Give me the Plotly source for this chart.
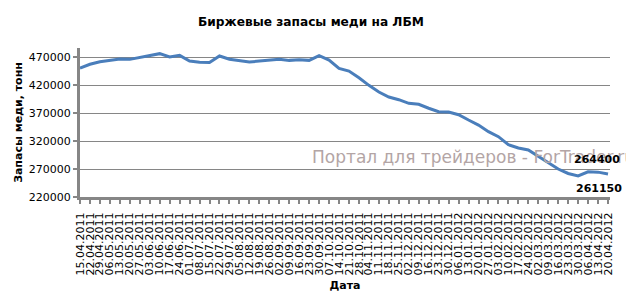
import plotly.graph_objects as go

dates = ["15.04.2011","22.04.2011","29.04.2011","06.05.2011","13.05.2011","20.05.2011","27.05.2011",
         "03.06.2011","10.06.2011","17.06.2011","24.06.2011","01.07.2011","08.07.2011","15.07.2011",
         "22.07.2011","29.07.2011","05.08.2011","12.08.2011","19.08.2011","26.08.2011","02.09.2011",
         "09.09.2011","16.09.2011","23.09.2011","30.09.2011","07.10.2011","14.10.2011","21.10.2011",
         "28.10.2011","04.11.2011","11.11.2011","18.11.2011","25.11.2011","02.12.2011","09.12.2011",
         "16.12.2011","23.12.2011","30.12.2011","06.01.2012","13.01.2012","20.01.2012","27.01.2012",
         "03.02.2012","10.02.2012","17.02.2012","24.02.2012","02.03.2012","09.03.2012","16.03.2012",
         "23.03.2012","30.03.2012","06.04.2012","13.04.2012","20.04.2012"]

stocks = [450000, 457000, 461600, 464600, 466400, 465800, 468800,
          472300, 476000, 470000, 473000, 462800, 460500, 460000,
          471800, 466000, 464000, 461000, 462800, 464000, 465800,
          464000, 465200, 464000, 472300, 464600, 449800, 445000,
          433000, 419400, 407500, 398600, 393800, 387300, 385600,
          378500, 372300, 371700, 367000, 357500, 348500, 336600,
          327700, 313400, 307500, 304000, 293000, 281700, 270000,
          262000, 257500, 265000, 264400, 261150]

y_ticks = [220000, 270000, 320000, 370000, 420000, 470000]

x_idx = list(range(len(dates)))

fig = go.Figure()
fig.add_trace(go.Scatter(x=x_idx, y=stocks, mode="lines",
                         line=dict(color="#4A7EBB", width=3), hoverinfo="skip"))

fig.update_layout(
    width=626, height=292,
    margin=dict(l=80, r=16, t=48, b=95),
    paper_bgcolor="white", plot_bgcolor="white",
    showlegend=False,
    font=dict(family="DejaVu Sans", color="black"),
)

fig.update_xaxes(
    range=[0, 53.2], tickmode="array", tickvals=x_idx, ticktext=dates, tickangle=-90,
    tickfont=dict(size=11, family="DejaVu Sans"), automargin=False,
    showgrid=False, showline=True, linecolor="#868686", linewidth=3,
    ticks="outside", ticklen=4, tickwidth=2, tickcolor="#868686", ticklabelstandoff=4,
    title=dict(text="<b>Дата</b>", font=dict(size=11), standoff=11), zeroline=False,
)
fig.update_yaxes(
    range=[220000, 486100], tickmode="array", tickvals=y_ticks, ticktext=[str(v) for v in y_ticks],
    tickfont=dict(size=11, family="DejaVu Sans"), automargin=False,
    showgrid=True, gridcolor="#868686", gridwidth=1,
    showline=True, linecolor="#868686", linewidth=3,
    ticks="outside", ticklen=4, tickwidth=2, tickcolor="#868686",
    title=dict(text="<b>Запасы меди, тонн</b>", font=dict(size=11), standoff=4), zeroline=False,
)

fig.add_annotation(xref="paper", yref="paper", x=(311-80)/530, y=(292-95-22)/149,
                   xanchor="center", yanchor="middle", showarrow=False,
                   text="<b>Биржевые запасы меди на ЛБМ</b>",
                   font=dict(size=12.2, family="DejaVu Sans", color="black"))

fig.add_annotation(xref="paper", yref="paper", x=(310-80)/530, y=(197-157)/149,
                   xanchor="left", yanchor="middle", showarrow=False,
                   text="Портал для трейдеров - ForTrader.ru",
                   font=dict(size=17, family="DejaVu Sans", color="#b3a5a5"))

fig.add_annotation(x=x_idx[-2], y=stocks[-2], text="<b>" + str(stocks[-2]) + "</b>",
                   showarrow=False, xanchor="center", yanchor="bottom", yshift=4, xshift=-1,
                   font=dict(size=11, color="black"))
fig.add_annotation(x=x_idx[-1], y=stocks[-1], text="<b>" + str(stocks[-1]) + "</b>",
                   showarrow=False, xanchor="center", yanchor="top", yshift=-6, xshift=-9,
                   font=dict(size=11, color="black"))

fig.write_html("out.html")
